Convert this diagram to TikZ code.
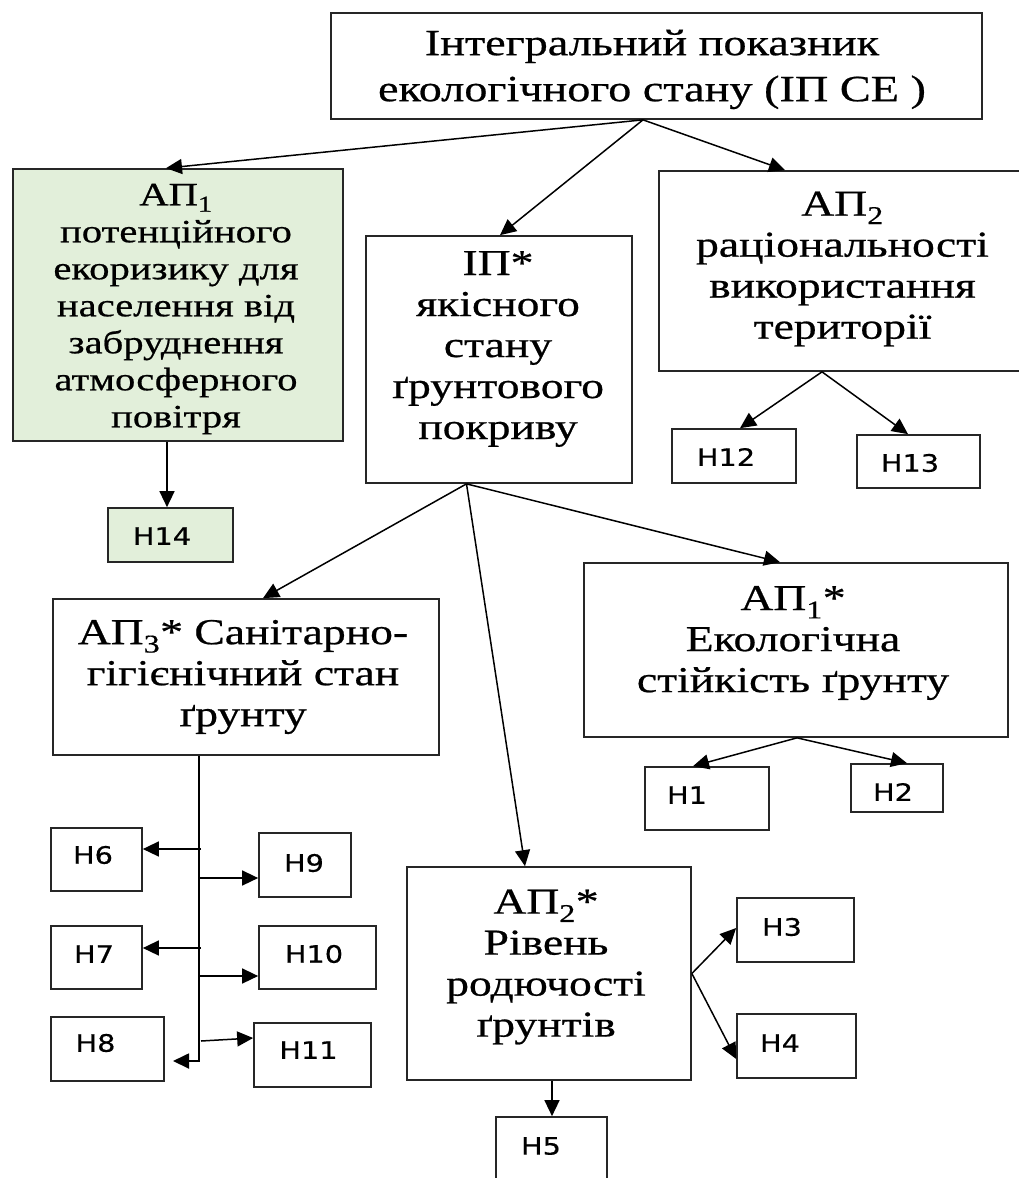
\documentclass[tikz,border=0pt]{standalone}
\usepackage{fontspec}
\setmainfont{Liberation Serif}[FakeStretch=1.25,FakeBold=0.6]
\newfontfamily\hfont{DejaVu Sans}[FakeStretch=1.2,FakeBold=0.5]
\usetikzlibrary{arrows.meta}
\definecolor{gfill}{RGB}{226,239,218}
\begin{document}
\begin{tikzpicture}[x=1pt,y=-1pt,
  bx/.style={draw=black!85, line width=1.7pt, inner sep=0pt},
  ser/.style={font=\fontsize{36.5}{41}\selectfont, align=center, inner sep=0pt},
  hl/.style={font=\hfont\fontsize{24}{28}\selectfont, inner sep=0pt},
  arr/.style={-{Triangle[length=16pt,width=15pt]}, line width=1.5pt}]
\useasboundingbox (0,0) rectangle (1019,1178);
% ---------- boxes ----------
\node[bx, minimum width=651pt, minimum height=106pt] (top) at (656.5,66) {};
\node[bx, fill=gfill, minimum width=330pt, minimum height=272pt] (ap1) at (178,305) {};
\node[bx, minimum width=266pt, minimum height=247pt] (ip) at (499,359.5) {};
\node[bx, minimum width=371pt, minimum height=200pt] (ap2) at (844.5,271) {};
\node[bx, minimum width=124pt, minimum height=54pt] (h12) at (734,456) {};
\node[bx, minimum width=123pt, minimum height=53pt] (h13) at (918.5,461.5) {};
\node[bx, fill=gfill, minimum width=125pt, minimum height=54pt] (h14) at (170.5,535) {};
\node[bx, minimum width=386pt, minimum height=156pt] (ap3) at (246,677) {};
\node[bx, minimum width=424pt, minimum height=174pt] (ap1s) at (796,650) {};
\node[bx, minimum width=124pt, minimum height=63pt] (h1) at (707,798.5) {};
\node[bx, minimum width=92pt, minimum height=48pt] (h2) at (897,788) {};
\node[bx, minimum width=91pt, minimum height=63pt] (h6) at (96.5,859.5) {};
\node[bx, minimum width=92pt, minimum height=64pt] (h9) at (305,865) {};
\node[bx, minimum width=91pt, minimum height=63pt] (h7) at (96.5,957.5) {};
\node[bx, minimum width=117pt, minimum height=63pt] (h10) at (317.5,957.5) {};
\node[bx, minimum width=113pt, minimum height=64pt] (h8) at (107.5,1049) {};
\node[bx, minimum width=117pt, minimum height=64pt] (h11) at (312.5,1055) {};
\node[bx, minimum width=284pt, minimum height=213pt] (ap2s) at (549,973.5) {};
\node[bx, minimum width=117pt, minimum height=64pt] (h3) at (795.5,930) {};
\node[bx, minimum width=119pt, minimum height=64pt] (h4) at (796.5,1046) {};
\node[bx, minimum width=111pt, minimum height=73pt] (h5) at (551.5,1153.5) {};
% ---------- texts ----------
\node[ser, font=\fontsize{37}{46}\selectfont] (topT) at (652,69.5) {Інтегральний показник\\екологічного стану (ІП СЕ )};
\node[ser, font=\fontsize{32.5}{37}\selectfont] (ap1T) at (176,309) {АП\textsubscript{1}\\потенційного\\екоризику для\\населення від\\забруднення\\атмосферного\\повітря};
\node[ser] (ipT) at (498,349) {ІП*\\якісного\\стану\\ґрунтового\\покриву};
\node[ser] (ap2T) at (842.5,269) {АП\textsubscript{2}\\раціональності\\використання\\території};
\node[ser] (ap3T) at (243,677) {АП\textsubscript{3}* Санітарно-\\гігієнічний стан\\ґрунту};
\node[ser] (ap1sT) at (793,643) {АП\textsubscript{1}*\\Екологічна\\стійкість ґрунту};
\node[ser] (ap2sT) at (546,967) {АП\textsubscript{2}*\\Рівень\\родючості\\ґрунтів};
\node[hl] (h12T) at (726,457) {Н12};
\node[hl] (h13T) at (910,463) {Н13};
\node[hl] (h14T) at (162,536) {Н14};
\node[hl] (h1T) at (687,795) {Н1};
\node[hl] (h2T) at (893,792) {Н2};
\node[hl] (h6T) at (93,855) {Н6};
\node[hl] (h9T) at (304,863) {Н9};
\node[hl] (h7T) at (94,954) {Н7};
\node[hl] (h10T) at (314,954) {Н10};
\node[hl] (h8T) at (95.5,1043) {Н8};
\node[hl] (h11T) at (308.5,1050) {Н11};
\node[hl] (h3T) at (782,927) {Н3};
\node[hl] (h4T) at (780,1043) {Н4};
\node[hl] (h5T) at (541,1146) {Н5};
% ---------- connectors ----------
\draw[arr] ([xshift=-13.5pt]top.south) -- ([xshift=-12pt]ap1.north);
\draw[arr] ([xshift=-13.5pt]top.south) -- ([xshift=1pt]ip.north);
\draw[arr] ([xshift=-13.5pt]top.south) -- ([xshift=-59.5pt]ap2.north);
\draw[arr] ([xshift=-11pt]ap1.south) -- ([xshift=-3.5pt]h14.north);
\draw[arr] ([xshift=-22.5pt]ap2.south) -- ([xshift=6pt]h12.north);
\draw[arr] ([xshift=-22.5pt]ap2.south) -- ([xshift=-10.5pt]h13.north);
\draw[arr] ([xshift=-32.5pt]ip.south) -- ([xshift=17pt]ap3.north);
\draw[arr] ([xshift=-32.5pt]ip.south) -- ([xshift=-24pt]ap2s.north);
\draw[arr] ([xshift=-32.5pt]ip.south) -- ([xshift=-16pt]ap1s.north);
\draw[arr] ([xshift=1pt]ap1s.south) -- ([xshift=-14pt]h1.north);
\draw[arr] ([xshift=1pt]ap1s.south) -- ([xshift=10pt]h2.north);
\draw[arr] (ap2s.east) -- ([yshift=2pt]h3.west);
\draw[arr] (ap2s.east) -- ([yshift=-13pt]h4.west);
\draw[arr] ([xshift=3pt]ap2s.south) -- ([xshift=0.5pt]h5.north);
% trunk under AP3*
\coordinate (tb) at (199,1061);
\coordinate (h8tip) at (173,1061);
\coordinate (t6) at (201,849);
\coordinate (t9) at (199,878);
\coordinate (t7) at (201,948);
\coordinate (t10) at (199,976);
\coordinate (t11) at (201,1041);
\draw[arr, line width=1.8pt] ([xshift=-47pt]ap3.south) -- (tb) -- (h8tip);
\draw[arr] (t6) -- ([yshift=10.5pt]h6.east);
\draw[arr] (t9) -- ([yshift=-13pt]h9.west);
\draw[arr] (t7) -- ([yshift=9.5pt]h7.east);
\draw[arr] (t10) -- ([yshift=-18.5pt]h10.west);
\draw[arr] (t11) -- ([yshift=17pt]h11.west);
\end{tikzpicture}
\end{document}
